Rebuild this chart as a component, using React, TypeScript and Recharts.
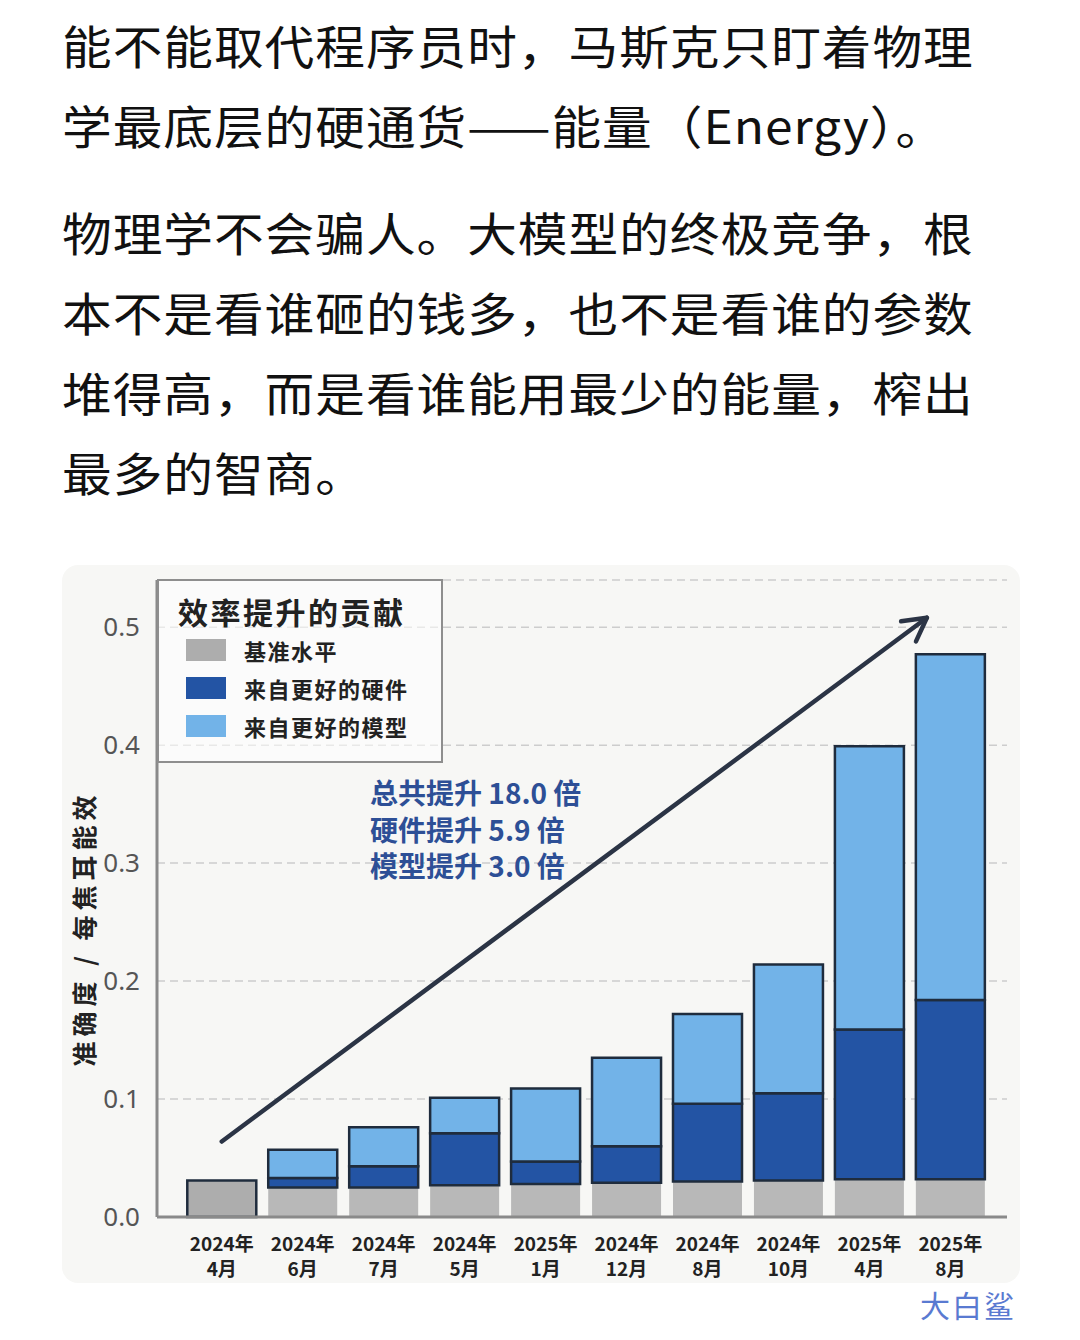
import React from "react";
import { BarChart, Bar, XAxis, YAxis, CartesianGrid, ReferenceLine, Cell } from "recharts";

const tickYears = ["2024年", "2024年", "2024年", "2024年", "2025年", "2024年", "2024年", "2024年", "2025年", "2025年"];
const tickMonths = ["4月", "6月", "7月", "5月", "1月", "12月", "8月", "10月", "4月", "8月"];
const baseline = [0.031, 0.025, 0.025, 0.027, 0.028, 0.029, 0.03, 0.031, 0.032, 0.032];
const hardware = [0, 0.008, 0.018, 0.044, 0.019, 0.031, 0.066, 0.074, 0.127, 0.152];
const model = [0, 0.024, 0.033, 0.03, 0.062, 0.075, 0.076, 0.109, 0.24, 0.293];
const yTicks = [0, 0.1, 0.2, 0.3, 0.4, 0.5];
const arrowStart = { x: 0, y: 0.064 };
const arrowEnd = { x: 8.71, y: 0.508 };
const notes = ["总共提升 18.0 倍", "硬件提升 5.9 倍", "模型提升 3.0 倍"];
const legendTitle = "效率提升的贡献";
const seriesNames = ["基准水平", "来自更好的硬件", "来自更好的模型"];

const para1 = ["能不能取代程序员时，马斯克只盯着物理", "学最底层的硬通货——能量（Energy）。"];
const para2 = ["物理学不会骗人。大模型的终极竞争，根", "本不是看谁砸的钱多，也不是看谁的参数", "堆得高，而是看谁能用最少的能量，榨出", "最多的智商。"];

const data = tickMonths.map((_, i) => ({
  pos: i,
  baseline: baseline[i],
  hardware: hardware[i],
  model: model[i],
}));

const GRAY = "#adadad";
const DARK = "#2354a4";
const LIGHT = "#72b3e8";
const OUTLINE = "#1f2c3d";
const seriesColors = [GRAY, DARK, LIGHT];
const CJK = '"Noto Sans CJK SC", "Noto Sans", sans-serif';

const MonthTick = (props: any) => {
  const { x, y, payload } = props;
  const i = payload.value;
  return (
    <g fontFamily={CJK} fontWeight={700} fontSize={19} fill="#222">
      <text x={x} y={y + 25} textAnchor="middle" dominantBaseline="central">{tickYears[i]}</text>
      <text x={x} y={y + 50} textAnchor="middle" dominantBaseline="central">{tickMonths[i]}</text>
    </g>
  );
};

const Arrow = (p: any) => {
  const { x1, y1, x2, y2 } = p;
  const ang = Math.atan2(y2 - y1, x2 - x1);
  const L = 26;
  const a = 0.5;
  const ax = x2 - L * Math.cos(ang - a);
  const ay = y2 - L * Math.sin(ang - a);
  const bx = x2 - L * Math.cos(ang + a);
  const by = y2 - L * Math.sin(ang + a);
  return (
    <g stroke="#2b3445" strokeWidth={4.5} strokeLinecap="round" fill="none">
      <line x1={x1} y1={y1} x2={x2} y2={y2} />
      <polyline points={`${ax},${ay} ${x2},${y2} ${bx},${by}`} strokeLinejoin="round" />
    </g>
  );
};

const YLabel = (p: any) => {
  const vb = p.viewBox || { x: 35, y: 15, width: 60, height: 637 };
  const cx = vb.x - 14;
  const cy = vb.y + vb.height / 2 + 30;
  return (
    <text
      x={cx}
      y={cy}
      transform={`rotate(-90, ${cx}, ${cy})`}
      textAnchor="middle"
      dominantBaseline="central"
      fontFamily={CJK}
      fontWeight={700}
      fontSize={25}
      letterSpacing={5}
      fill="#222"
    >
      准确度 / 每焦耳能效
    </text>
  );
};

const textBlock: React.CSSProperties = {
  position: "absolute",
  left: 54,
  fontSize: 46,
  fontWeight: 400,
  letterSpacing: 0.9,
  lineHeight: "80px",
  color: "#111",
  whiteSpace: "nowrap",
  transform: "scaleX(1.08)",
  transformOrigin: "left top",
};

export default function App() {
  return (
    <div style={{ position: "relative", width: 1064, height: 1324, background: "#fff", fontFamily: CJK }}>
      <div style={{ ...textBlock, top: -4 }}>
        {para1.map((l) => (
          <div key={l}>{l}</div>
        ))}
      </div>
      <div style={{ ...textBlock, top: 183 }}>
        {para2.map((l) => (
          <div key={l}>{l}</div>
        ))}
      </div>

      <div style={{ position: "absolute", left: 54, top: 557, width: 958, height: 718, background: "#f7f7f5", borderRadius: 16 }}>
        <BarChart width={958} height={718} data={data} margin={{ top: 15, right: 13, bottom: 10, left: 35 }}>
          <CartesianGrid vertical={false} stroke="#cdcdcd" strokeWidth={1.5} strokeDasharray="8 5" />
          <XAxis
            type="number"
            dataKey="pos"
            domain={[-0.8, 9.7]}
            ticks={[0, 1, 2, 3, 4, 5, 6, 7, 8, 9]}
            interval={0}
            height={56}
            tickLine={false}
            tickSize={0}
            tickMargin={0}
            axisLine={{ stroke: "#8a8a8a", strokeWidth: 3 }}
            tick={<MonthTick />}
          />
          <YAxis
            type="number"
            domain={[0, 0.54]}
            ticks={yTicks}
            width={60}
            tickLine={false}
            tickSize={0}
            tickMargin={17}
            tickFormatter={(v: number) => v.toFixed(1)}
            axisLine={{ stroke: "#8a8a8a", strokeWidth: 3 }}
            tick={{ fontSize: 26, fill: "#555", fontFamily: '"Noto Sans", sans-serif' }}
            label={{ content: <YLabel /> }}
          />
          <Bar dataKey="baseline" name={seriesNames[0]} stackId="s" fill={GRAY} barSize={69} isAnimationActive={false}>
            {data.map((d, i) => (
              <Cell key={i} stroke={i === 0 ? OUTLINE : "none"} strokeWidth={2.5} fillOpacity={i === 0 ? 1 : 0.85} />
            ))}
          </Bar>
          <Bar dataKey="hardware" name={seriesNames[1]} stackId="s" fill={DARK} stroke={OUTLINE} strokeWidth={2.5} barSize={69} isAnimationActive={false} />
          <Bar dataKey="model" name={seriesNames[2]} stackId="s" fill={LIGHT} stroke={OUTLINE} strokeWidth={2.5} barSize={69} isAnimationActive={false} />
          <ReferenceLine segment={[arrowStart, arrowEnd]} stroke="#2b3445" shape={<Arrow />} />
        </BarChart>

        <div
          style={{
            position: "absolute",
            left: 95,
            top: 14,
            boxSizing: "border-box",
            width: 286,
            height: 184,
            border: "2.5px solid #8e8e8e",
            background: "rgba(255,255,255,0.55)",
            fontFamily: CJK,
            color: "#222",
            padding: "10px 0 0 19px",
          }}
        >
          <div style={{ fontSize: 30, fontWeight: 700, letterSpacing: 2.5, lineHeight: "40px" }}>{legendTitle}</div>
          {seriesNames.map((n, i) => (
            <div key={n} style={{ display: "flex", alignItems: "center", height: 38, marginLeft: 8 }}>
              <span style={{ width: 40, height: 22, background: seriesColors[i], display: "inline-block", marginRight: 18 }} />
              <span style={{ fontSize: 22, fontWeight: 700, letterSpacing: 1.5 }}>{n}</span>
            </div>
          ))}
        </div>

        <div style={{ position: "absolute", left: 308, top: 209, fontFamily: CJK, fontWeight: 700, fontSize: 28, lineHeight: "36.5px", color: "#2d4f96", whiteSpace: "nowrap" }}>
          {notes.map((n) => (
            <div key={n}>{n}</div>
          ))}
        </div>
      </div>

      <div style={{ position: "absolute", left: 912, top: 1281, fontFamily: CJK, fontSize: 30, lineHeight: "30px", color: "#3d63c9", opacity: 0.85, letterSpacing: 2 }}>
        大白鲨
      </div>
    </div>
  );
}
